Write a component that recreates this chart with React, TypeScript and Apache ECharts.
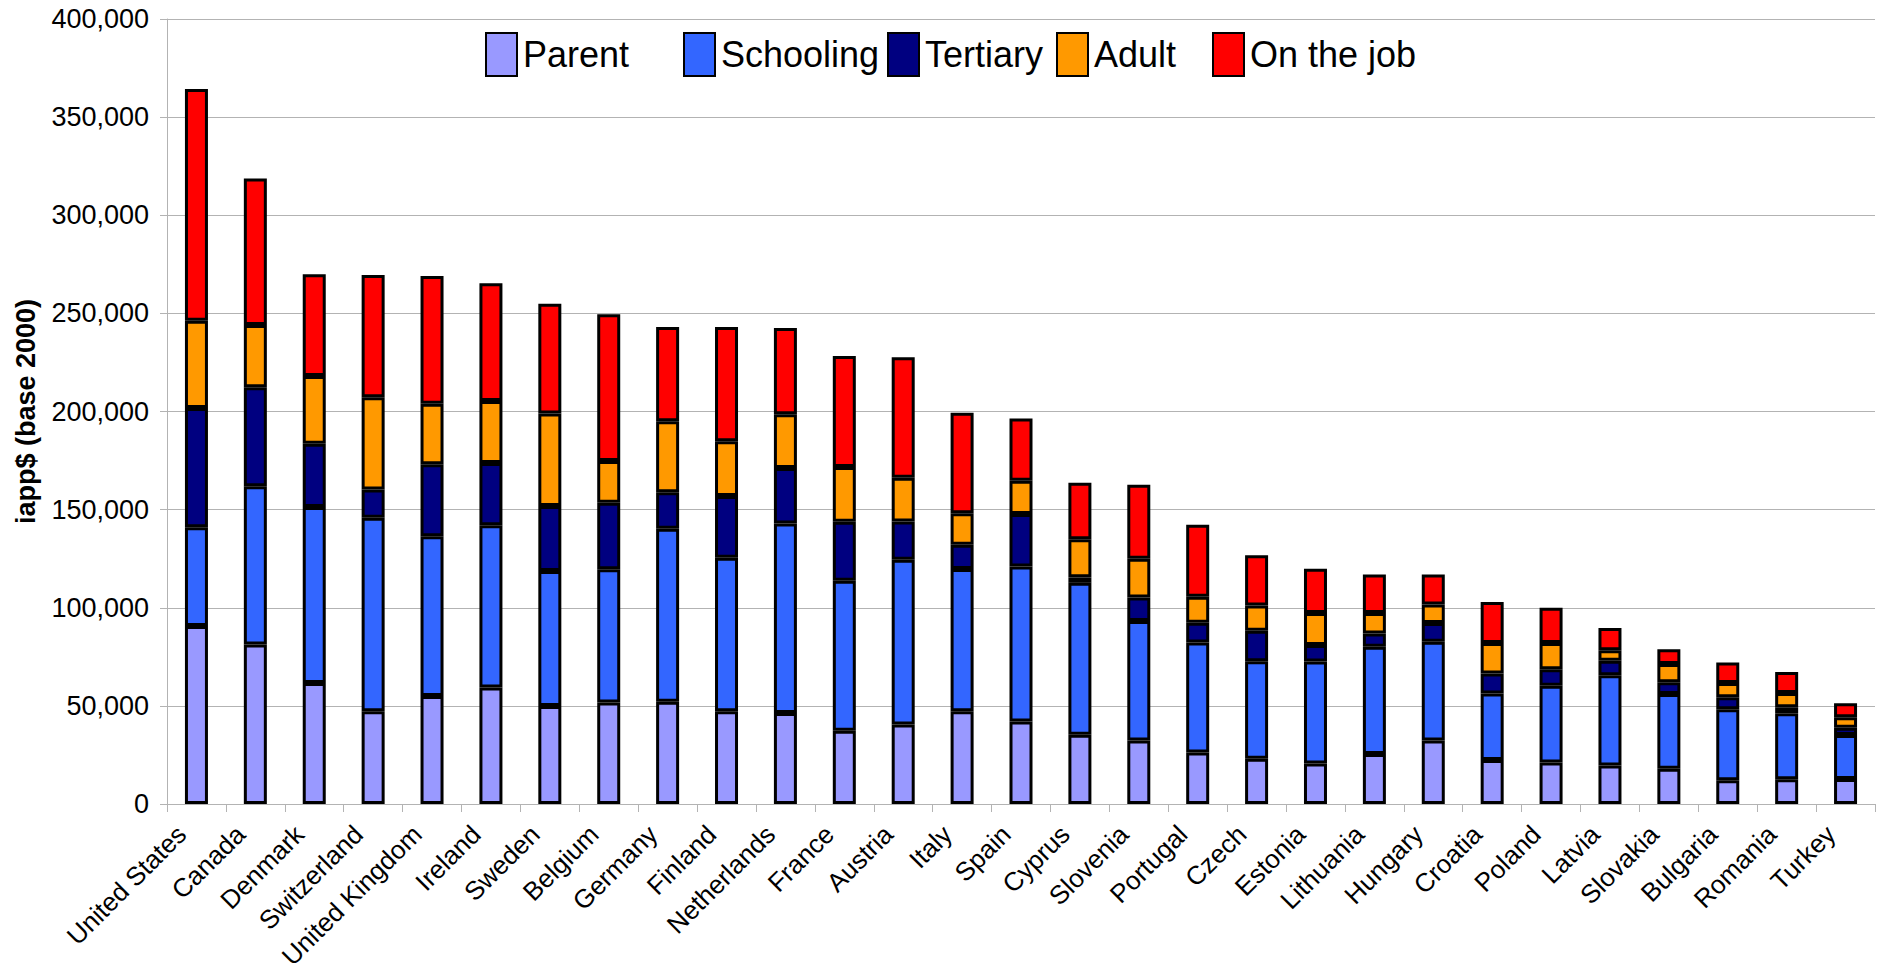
import React, { useEffect, useRef } from "react";
import * as echarts from "echarts";

const categories = [
  "United States", "Canada", "Denmark", "Switzerland", "United Kingdom", "Ireland",
  "Sweden", "Belgium", "Germany", "Finland", "Netherlands", "France", "Austria",
  "Italy", "Spain", "Cyprus", "Slovenia", "Portugal", "Czech", "Estonia",
  "Lithuania", "Hungary", "Croatia", "Poland", "Latvia", "Slovakia", "Bulgaria",
  "Romania", "Turkey",
];

const parent = [90700, 81300, 61600, 47300, 55000, 59400, 49900, 51700, 52100, 47300, 46400, 37300, 40500, 47200, 42100, 35300, 32300, 26200, 23000, 20700, 25500, 32300, 22400, 21100, 19600, 17900, 12100, 12600, 12800];
const schooling = [50300, 80600, 89700, 98600, 81400, 82600, 68800, 67900, 88100, 78200, 96500, 76500, 83900, 72600, 78900, 77400, 61000, 56100, 49800, 51900, 54600, 50400, 33900, 39100, 46000, 38200, 36200, 33700, 22400];
const tertiary = [60800, 50500, 32300, 14400, 36700, 31700, 33200, 33900, 18600, 31500, 28300, 30000, 19600, 12300, 26800, 2800, 11900, 10000, 15500, 8400, 6800, 9500, 10200, 8500, 7400, 5900, 6100, 3000, 3700];
const adult = [44500, 31700, 34500, 47000, 30900, 31700, 47100, 21300, 36200, 27800, 27400, 27900, 22300, 16100, 16900, 19400, 19800, 13300, 12900, 16300, 10400, 9500, 15500, 13400, 5300, 9300, 7300, 7200, 5300];
const onTheJob = [118000, 74600, 51900, 62300, 65100, 59900, 55900, 74700, 48100, 58300, 43900, 56600, 61300, 51200, 31700, 28800, 37700, 36700, 25600, 22600, 19700, 15300, 20900, 17900, 11400, 7500, 10400, 10700, 7200];

const seriesNames = ["Parent", "Schooling", "Tertiary", "Adult", "On the job"];
const seriesColors = ["#9999ff", "#3366ff", "#000080", "#ff9900", "#ff0000"];
const seriesData = [parent, schooling, tertiary, adult, onTheJob];
const legendLefts = [485, 683, 887, 1056, 1212];

const FONT = "'Liberation Sans', Arial, sans-serif";

export default function App() {
  const ref = useRef<HTMLDivElement>(null);
  useEffect(() => {
    if (!ref.current) return;
    const chart = echarts.init(ref.current, undefined, { renderer: "svg" });
    chart.setOption({
      animation: false,
      backgroundColor: "#ffffff",
      textStyle: { fontFamily: FONT },
      legend: seriesNames.map((n, i) => ({
        data: [n],
        left: legendLefts[i],
        top: 32,
        padding: 0,
        itemWidth: 31,
        itemHeight: 43,
        itemGap: 0,
        icon: "rect",
        itemStyle: { borderWidth: 2 },
        textStyle: { fontSize: 36, color: "#000", fontFamily: FONT, padding: [0, 0, 0, 1] },
      })),
      grid: {
        left: 167,
        right: 6,
        top: 19,
        bottom: 171,
        containLabel: false,
        outerBoundsMode: "none",
      },
      xAxis: {
        type: "category",
        data: categories,
        axisLine: { lineStyle: { color: "#b3b3b3", width: 1 } },
        axisTick: { show: true, length: 8, lineStyle: { color: "#b3b3b3" }, alignWithLabel: false },
        axisLabel: {
          rotate: 45,
          interval: 0,
          margin: 11,
          fontSize: 26,
          lineHeight: 20,
          color: "#000",
          fontFamily: FONT,
          padding: [0, 21, 0, 0],
        },
      },
      yAxis: {
        type: "value",
        min: 0,
        max: 400000,
        interval: 50000,
        name: "iapp$ (base 2000)",
        nameLocation: "middle",
        nameGap: 128,
        nameTextStyle: { fontSize: 27, fontWeight: "bold", color: "#000", fontFamily: FONT },
        axisLine: { show: true, lineStyle: { color: "#b3b3b3", width: 1 } },
        axisTick: { show: true, length: 7, lineStyle: { color: "#b3b3b3" } },
        splitLine: { lineStyle: { color: "#b3b3b3", width: 1 } },
        axisLabel: {
          fontSize: 27,
          color: "#000",
          margin: 18,
          fontFamily: FONT,
          formatter: (v: number) => v.toLocaleString("en-US"),
        },
      },
      series: seriesNames.map((n, i) => ({
        name: n,
        type: "bar",
        stack: "total",
        barWidth: 23,
        data: seriesData[i],
        itemStyle: { color: seriesColors[i], borderColor: "#000", borderWidth: 3 },
      })),
    });
    return () => chart.dispose();
  }, []);
  return (
    <div
      ref={ref}
      style={{ position: "fixed", left: 0, top: 0, width: 1881, height: 975 }}
    />
  );
}
